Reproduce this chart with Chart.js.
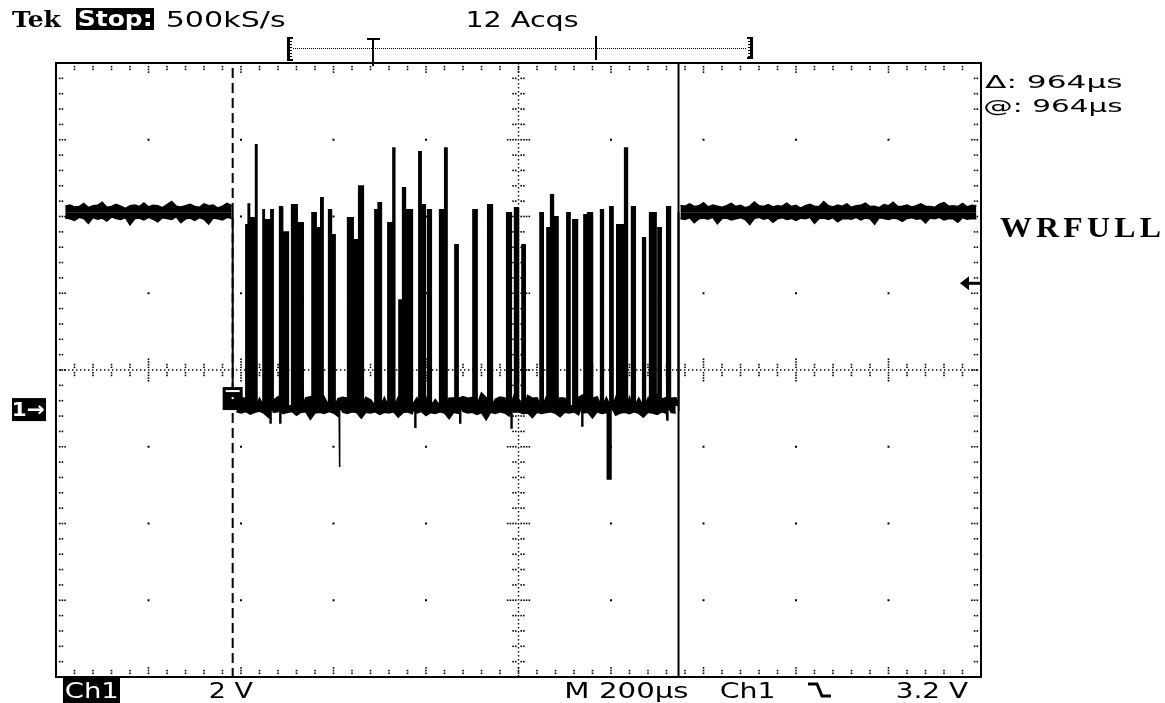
<!DOCTYPE html>
<html><head><meta charset="utf-8">
<script src="https://cdn.jsdelivr.net/npm/chart.js@4.4.1/dist/chart.umd.min.js"></script>
<style>html,body{margin:0;padding:0;background:#fff;}canvas{display:block;}</style>
</head><body>
<canvas id="c" width="1165" height="703"></canvas>
<script>
// ---------- scope settings ----------
const timebaseUsPerDiv = 200;
const voltsPerDiv = 2;
const groundOffsetDiv = 0.47;      // ground marker below screen centre
const cursor1Us = 382;
const cursorDeltaUs = 964;
const triggerLevelV = 3.2;
const highLevelV = 5.05;
const lowLevelV = 0;
const sampleStepUs = 10;

// ---------- header / labels ----------
const headerLabels = ["Tek", "Stop:", "500kS/s", "12 Acqs"];
const cursorLabels = ["\u0394: 964\u00b5s", "@: 964\u00b5s"];
const signalName = "WRFULL";
const footerLabels = ["Ch1", "2 V", "M 200\u00b5s", "Ch1", "3.2 V"];

// ---------- trace: high level before the burst ----------
const highBeforeStartUs = 20;
const highBeforeUpperV = [5.21,5.24,5.19,5.20,5.28,5.17,5.22,5.23,5.31,5.18,5.20,5.26,5.21,5.15,5.22,5.24,5.20,5.29,5.19,5.23,5.22,5.17,5.25,5.33,5.21,5.19,5.22,5.26,5.20,5.18,5.27,5.22,5.24,5.16,5.21,5.28,5.22];
const highBeforeLowerV = [4.90,4.88,4.84,4.92,4.89,4.76,4.91,4.87,4.90,4.82,4.93,4.89,4.86,4.91,4.72,4.88,4.90,4.85,4.92,4.87,4.80,4.91,4.89,4.86,4.93,4.78,4.88,4.90,4.84,4.91,4.87,4.74,4.90,4.88,4.85,4.92,4.89];

// ---------- trace: low level during the burst ----------
const burstStartUs = 390;
const burstUpperV = [0.18,0.21,0.20,0.16,0.27,0.19,0.22,0.21,0.15,0.23,
 0.20,0.19,0.31,0.22,0.18,0.21,0.24,0.20,0.17,0.22,
 0.21,0.34,0.19,0.22,0.20,0.18,0.27,0.21,0.22,0.16,
 0.23,0.20,0.21,0.30,0.19,0.22,0.18,0.24,0.21,0.20,
 0.23,0.19,0.21,0.16,0.22,0.28,0.20,0.21,0.19,0.24,
 0.20,0.22,0.18,0.33,0.21,0.20,0.17,0.23,0.21,0.20,
 0.25,0.19,0.22,0.27,0.20,0.21,0.18,0.22,0.30,0.19,
 0.21,0.20,0.24,0.18,0.22,0.29,0.21,0.20,0.23,0.19,
 0.21,0.26,0.20,0.22,0.17,0.21,0.31,0.20,0.22,0.19,
 0.24,0.21,0.18,0.22,0.20,0.21];
const burstLowerV = [-0.15,-0.18,-0.14,-0.21,-0.16,-0.13,-0.19,-0.30,-0.16,-0.15,
 -0.19,-0.17,-0.14,-0.24,-0.16,-0.15,-0.35,-0.18,-0.16,-0.19,
 -0.14,-0.18,-0.27,-0.16,-0.19,-0.15,-0.17,-0.32,-0.16,-0.18,
 -0.15,-0.22,-0.16,-0.18,-0.15,-0.29,-0.17,-0.15,-0.20,-0.18,
 -0.14,-0.25,-0.17,-0.19,-0.15,-0.18,-0.33,-0.16,-0.19,-0.14,
 -0.18,-0.16,-0.22,-0.17,-0.36,-0.16,-0.19,-0.15,-0.18,-0.26,
 -0.16,-0.15,-0.20,-0.18,-0.30,-0.16,-0.19,-0.17,-0.15,-0.19,
 -0.28,-0.16,-0.18,-0.15,-0.23,-0.18,-0.16,-0.31,-0.15,-0.19,
 -0.17,-0.15,-0.24,-0.18,-0.16,-0.20,-0.15,-0.19,-0.29,-0.16,
 -0.18,-0.22,-0.15,-0.19,-0.17,-0.18];

// pulses during the burst
const pulseStartUs = [411,416,422,432,448,454,465,484,493,510,
 523,554,562,573,590,595,631,644,655,690,
 697,718,729,742,750,759,785,789,804,830,
 841,863,902,934,975,992,1008,1047,1062,1070,
 1075,1105,1118,1142,1150,1178,1198,1213,1230,1245,
 1269,1284,1302,1321];
const pulseEndUs = [415,418,432,434,450,461,469,489,502,521,
 534,562,569,577,595,603,642,651,664,697,
 703,727,732,748,755,770,789,798,811,841,
 845,869,910,943,984,999,1014,1053,1070,1075,
 1085,1111,1127,1150,1159,1183,1204,1226,1235,1252,
 1274,1297,1308,1328];
const pulseTopV = [4.72,5.26,4.90,6.80,5.11,4.85,5.11,5.19,4.53,5.24,
 4.77,5.03,4.64,5.42,5.11,4.46,4.90,4.33,5.73,5.11,
 5.29,4.77,6.72,2.76,5.68,5.11,6.62,5.24,5.11,5.11,
 6.72,4.20,5.11,5.24,5.03,5.16,4.20,5.03,4.64,5.50,
 4.93,5.03,4.85,4.98,5.03,5.11,5.19,4.72,6.72,5.19,
 4.38,5.03,4.64,5.19];

// negative glitches during the burst
const dipStartUs = [463,484,612,776,873,984,1137,1192,1321];
const dipEndUs   = [465,486,614,778,875,986,1139,1200,1323];
const dipLevelV  = [-0.44,-0.44,-1.59,-0.55,-0.44,-0.57,-0.52,-1.90,-0.36];

// ---------- trace: high level after the burst ----------
const highAfterStartUs = 1350;
const highAfterUpperV = [5.23,5.21,5.27,5.20,5.22,5.30,5.19,5.24,5.21,5.18,
 5.22,5.28,5.20,5.23,5.17,5.21,5.32,5.22,5.20,5.25,
 5.19,5.22,5.21,5.29,5.20,5.23,5.16,5.22,5.26,5.21,
 5.20,5.33,5.22,5.19,5.24,5.21,5.27,5.18,5.22,5.23,
 5.29,5.20,5.21,5.17,5.25,5.22,5.31,5.20,5.21,5.24,
 5.19,5.22,5.27,5.21,5.20,5.18,5.26,5.30,5.21,5.22,
 5.20,5.28,5.19,5.23,5.22];
const highAfterLowerV = [4.89,4.86,4.91,4.78,4.88,4.90,4.87,4.92,4.75,4.89,
 4.90,4.85,4.88,4.91,4.86,4.73,4.89,4.92,4.87,4.90,
 4.79,4.88,4.91,4.86,4.89,4.84,4.90,4.88,4.92,4.76,
 4.89,4.90,4.86,4.91,4.80,4.88,4.89,4.87,4.92,4.85,
 4.90,4.88,4.74,4.91,4.89,4.86,4.90,4.88,4.81,4.89,
 4.91,4.87,4.89,4.77,4.90,4.88,4.92,4.85,4.89,4.88,
 4.79,4.91,4.87,4.89,4.88];

// ---------- build library data ----------
const cursor2Us = cursor1Us + cursorDeltaUs;
function series(startUs, values) {
  return values.map((v, i) => ({x: startUs + i * sampleStepUs, y: v}));
}
function withEvents(startUs, values, starts, ends, levels, base) {
  const pts = [];
  let p = 0;
  const inside = t => starts.some((s, k) => t >= s && t <= ends[k]);
  const push = k => pts.push({x: starts[k], y: base}, {x: starts[k], y: levels[k]},
                             {x: ends[k], y: levels[k]}, {x: ends[k], y: base});
  values.forEach((v, i) => {
    const t = startUs + i * sampleStepUs;
    while (p < starts.length && starts[p] <= t) push(p++);
    if (!inside(t)) pts.push({x: t, y: v});
  });
  while (p < starts.length) push(p++);
  return pts;
}
const burstUpper = [{x: cursor1Us, y: highLevelV}, {x: cursor1Us, y: lowLevelV}]
  .concat(withEvents(burstStartUs, burstUpperV, pulseStartUs, pulseEndUs, pulseTopV, lowLevelV))
  .concat([{x: cursor2Us, y: lowLevelV}, {x: cursor2Us, y: highLevelV}]);
const burstLower = withEvents(burstStartUs, burstLowerV, dipStartUs, dipEndUs, dipLevelV, lowLevelV);

function traceDs(data, fillValue, width) {
  return {data, borderColor: '#000', backgroundColor: '#000', borderWidth: width,
          pointRadius: 0, tension: 0, fill: {value: fillValue}};
}

const centreV = groundOffsetDiv * voltsPerDiv;

// ---------- drawing helpers ----------
function fitText(ctx, str, left, right, baseline, size, family, weight, color, spacing) {
  ctx.save();
  ctx.font = weight + ' ' + size + 'px ' + family;
  if (spacing) ctx.letterSpacing = spacing + 'px';
  const m = ctx.measureText(str);
  const w = m.actualBoundingBoxLeft + m.actualBoundingBoxRight;
  const s = (right - left) / w;
  ctx.translate(left + m.actualBoundingBoxLeft * s, baseline);
  ctx.scale(s, 1);
  ctx.fillStyle = color;
  ctx.textBaseline = 'alphabetic';
  ctx.textAlign = 'left';
  ctx.fillText(str, 0, 0);
  ctx.restore();
}
function dot(ctx, x, y, s) { ctx.fillRect(x - s / 2, y - s / 2, s, s); }

const graticule = {
  id: 'graticule',
  beforeDatasetsDraw(chart) {
    const ctx = chart.ctx, a = chart.chartArea;
    const L = a.left, T = a.top, R = a.right, B = a.bottom;
    const dw = (R - L) / 10, dh = (B - T) / 8, cx = L + 5 * dw, cy = T + 4 * dh;
    ctx.save();
    ctx.fillStyle = '#000';
    for (let i = 1; i < 10; i++) for (let j = 1; j < 8; j++)
      if (i !== 5 && j !== 4) dot(ctx, L + i * dw, T + j * dh, 2);
    ctx.strokeStyle = '#000';
    ctx.lineWidth = 1.4;
    ctx.setLineDash([1.4, 2.6]);
    ctx.beginPath();
    ctx.moveTo(L, cy); ctx.lineTo(R, cy);
    ctx.moveTo(cx, T); ctx.lineTo(cx, B);
    ctx.stroke();
    ctx.setLineDash([]);
    const g = 2.7, ds = 1.6;
    for (let k = 1; k < 50; k++) {
      const x = L + k * dw / 5, major = k % 5 === 0;
      const n = major ? 3 : 2, nc = major ? 4 : 2;
      for (let m = 1; m <= n; m++) { dot(ctx, x, T + 1 + m * g, ds); dot(ctx, x, B - 1 - m * g, ds); }
      for (let m = 1; m <= nc; m++) { dot(ctx, x, cy - m * g, ds); dot(ctx, x, cy + m * g, ds); }
    }
    for (let k = 1; k < 40; k++) {
      const y = T + k * dh / 5, major = k % 5 === 0;
      const n = major ? 3 : 2, nc = major ? 4 : 2;
      for (let m = 1; m <= n; m++) { dot(ctx, L + 1 + m * g, y, ds); dot(ctx, R - 1 - m * g, y, ds); }
      for (let m = 1; m <= nc; m++) { dot(ctx, cx - m * g, y, ds); dot(ctx, cx + m * g, y, ds); }
    }
    ctx.lineWidth = 2;
    ctx.strokeRect(L, T, R - L, B - T);
    ctx.restore();
  }
};

const overlay = {
  id: 'overlay',
  afterDatasetsDraw(chart) {
    const ctx = chart.ctx, a = chart.chartArea;
    const xs = chart.scales.x, ys = chart.scales.y;
    const x1 = xs.getPixelForValue(cursor1Us), x2 = xs.getPixelForValue(cursor2Us);
    const gy = ys.getPixelForValue(lowLevelV), ty = ys.getPixelForValue(triggerLevelV);
    ctx.save();
    ctx.strokeStyle = '#000'; ctx.fillStyle = '#000';
    ctx.lineWidth = 2;
    ctx.setLineDash([10, 5]); ctx.lineDashOffset = -5;
    ctx.beginPath(); ctx.moveTo(x1, a.top); ctx.lineTo(x1, a.bottom); ctx.stroke();
    ctx.setLineDash([]);
    ctx.beginPath(); ctx.moveTo(x2, a.top); ctx.lineTo(x2, a.bottom); ctx.stroke();
    // trigger position marker
    ctx.fillRect(x1 - 10, gy - 19, 20, 23);
    ctx.fillStyle = '#fff';
    ctx.fillRect(x1 - 7, gy - 16, 14, 2);
    ctx.fillRect(x1 - 1, gy - 9, 2, 2);
    ctx.fillStyle = '#000';
    // trigger level arrow
    ctx.beginPath(); ctx.moveTo(a.right - 21, ty); ctx.lineTo(a.right - 12, ty - 7); ctx.lineTo(a.right - 12, ty + 7); ctx.closePath(); ctx.fill();
    ctx.fillRect(a.right - 13, ty - 1.5, 13, 3);
    // ground marker
    ctx.fillRect(12, gy - 8, 34, 23);
    fitText(ctx, '1\u2192', 14, 44, gy + 10, 20, '"DejaVu Sans"', 'bold', '#fff');
    ctx.restore();
  },
  afterDraw(chart) {
    const ctx = chart.ctx;
    ctx.save();
    ctx.fillStyle = '#000';
    // header
    fitText(ctx, headerLabels[0], 12, 62, 27, 23, '"DejaVu Serif"', 'bold', '#000');
    ctx.fillRect(76, 8, 78, 22);
    fitText(ctx, headerLabels[1], 79, 151, 26, 21, '"DejaVu Sans"', 'bold', '#fff');
    fitText(ctx, headerLabels[2], 167, 285, 27, 22, '"DejaVu Sans"', '500', '#000');
    fitText(ctx, headerLabels[3], 468, 578, 27, 22, '"DejaVu Sans"', '500', '#000');
    // record bar
    ctx.fillRect(287, 37, 3, 24); ctx.fillRect(287, 37, 6, 2); ctx.fillRect(287, 59, 6, 2);
    ctx.fillRect(750, 37, 3, 22); ctx.fillRect(747, 37, 6, 2); ctx.fillRect(747, 57, 6, 2);
    for (let y = 41; y < 58; y += 3) { ctx.fillRect(290, y, 2, 1); ctx.fillRect(748, y, 2, 1); }
    ctx.strokeStyle = '#000'; ctx.lineWidth = 1; ctx.setLineDash([1, 1]);
    ctx.beginPath(); ctx.moveTo(293, 48.5); ctx.lineTo(747, 48.5); ctx.stroke();
    ctx.setLineDash([]);
    ctx.fillRect(367, 38, 13, 2); ctx.fillRect(372, 38, 2, 28);
    ctx.fillRect(595, 36, 2, 24);
    // cursor readouts
    fitText(ctx, cursorLabels[0], 985, 1122, 88, 18, '"DejaVu Sans"', 'normal', '#000');
    fitText(ctx, cursorLabels[1], 985, 1122, 112, 18, '"DejaVu Sans"', 'normal', '#000');
    // signal name
    fitText(ctx, signalName, 1000, 1160, 237, 30, '"Liberation Serif"', 'bold', '#000', 4);
    // footer
    ctx.fillRect(63, 678, 57, 25);
    fitText(ctx, footerLabels[0], 66, 117, 698, 21, '"DejaVu Sans"', 'normal', '#fff');
    fitText(ctx, footerLabels[1], 210, 253, 698, 22, '"DejaVu Sans"', 'normal', '#000');
    fitText(ctx, footerLabels[2], 567, 688, 698, 22, '"DejaVu Sans"', 'normal', '#000');
    fitText(ctx, footerLabels[3], 721, 773, 698, 22, '"DejaVu Sans"', 'normal', '#000');
    fitText(ctx, footerLabels[4], 897, 968, 698, 22, '"DejaVu Sans"', 'normal', '#000');
    ctx.lineWidth = 3;
    ctx.beginPath(); ctx.moveTo(808, 684); ctx.lineTo(817, 684); ctx.lineTo(822, 696); ctx.lineTo(831, 696); ctx.stroke();
    ctx.restore();
  }
};

new Chart(document.getElementById('c'), {
  type: 'line',
  data: {
    datasets: [
      traceDs(series(highBeforeStartUs, highBeforeUpperV), highLevelV, 1.5),
      traceDs(series(highBeforeStartUs, highBeforeLowerV), highLevelV, 1.5),
      traceDs(burstUpper, lowLevelV, 2),
      traceDs(burstLower, lowLevelV, 1.5),
      traceDs(series(highAfterStartUs, highAfterUpperV), highLevelV, 1.5),
      traceDs(series(highAfterStartUs, highAfterLowerV), highLevelV, 1.5)
    ]
  },
  options: {
    responsive: false,
    animation: false,
    devicePixelRatio: 1,
    layout: {padding: {left: 56, top: 63, right: 184, bottom: 26}},
    plugins: {legend: {display: false}, tooltip: {enabled: false}},
    scales: {
      x: {type: 'linear', display: false, min: 0, max: 10 * timebaseUsPerDiv},
      y: {type: 'linear', display: false, min: centreV - 4 * voltsPerDiv, max: centreV + 4 * voltsPerDiv}
    }
  },
  plugins: [graticule, overlay]
});
</script>
</body></html>
